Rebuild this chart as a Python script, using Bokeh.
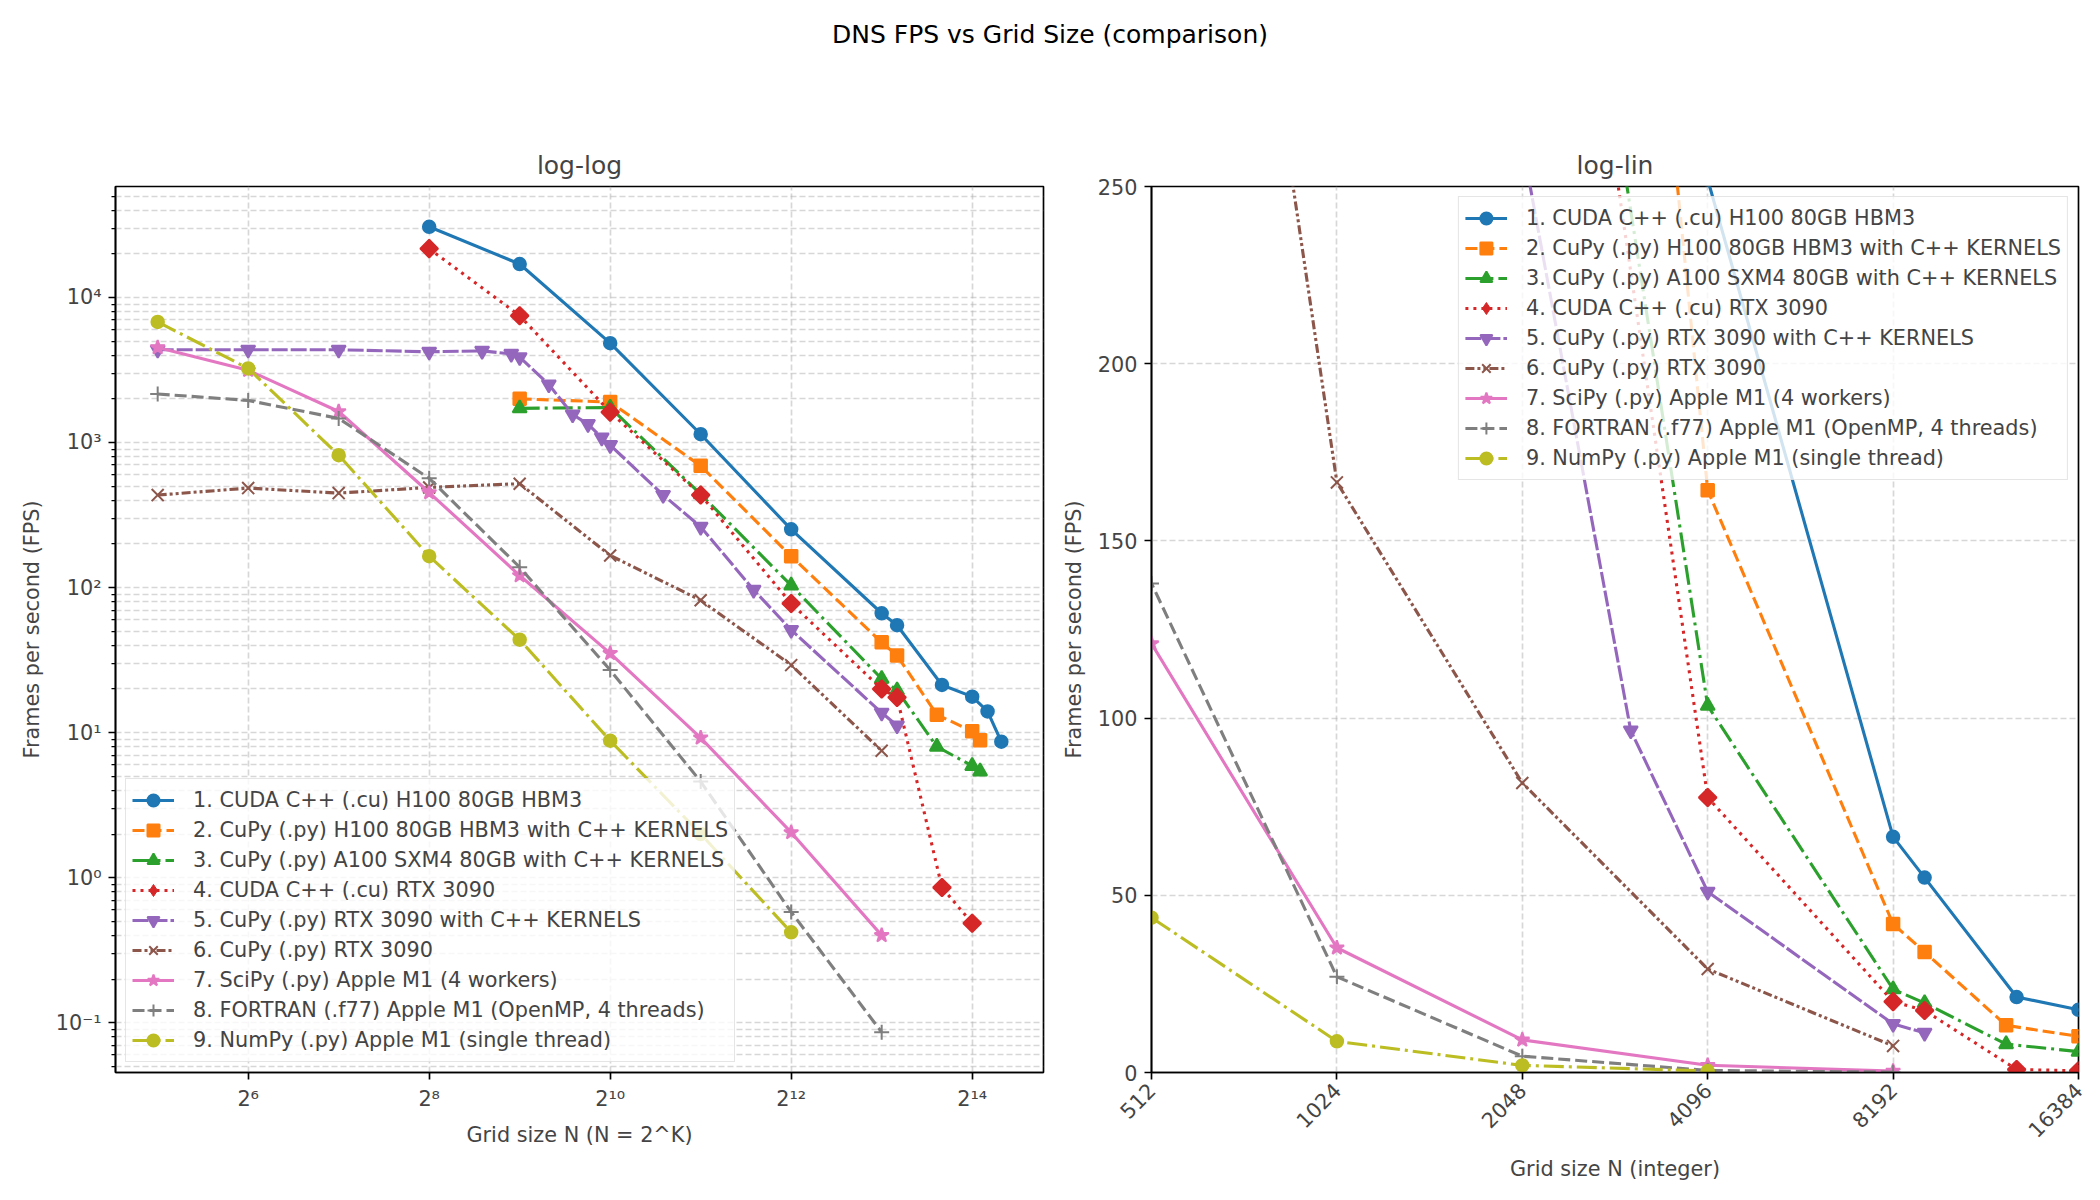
import numpy as np
from bokeh.plotting import figure
from bokeh.models import (FixedTicker, CustomJSTickFormatter, Legend, LegendItem,
                          Div, Range1d)
from bokeh.layouts import column, row
from bokeh.embed import file_html
from bokeh.resources import INLINE

# ---------------- data ----------------
labels = [
    "1. CUDA C++ (.cu) H100 80GB HBM3",
    "2. CuPy (.py) H100 80GB HBM3 with C++ KERNELS",
    "3. CuPy (.py) A100 SXM4 80GB with C++ KERNELS",
    "4. CUDA C++ (.cu) RTX 3090",
    "5. CuPy (.py) RTX 3090 with C++ KERNELS",
    "6. CuPy (.py) RTX 3090",
    "7. SciPy (.py) Apple M1 (4 workers)",
    "8. FORTRAN (.f77) Apple M1 (OpenMP, 4 threads)",
    "9. NumPy (.py) Apple M1 (single thread)",
]

n_cuda_h100 = [256, 512, 1024, 2048, 4096, 8192, 9216, 13000, 16384, 18432, 20480]
fps_cuda_h100 = [30700, 17000, 4840, 1140, 252, 66.5, 55, 21.3, 17.7, 14.0, 8.65]

n_cupy_h100 = [512, 1024, 2048, 4096, 8192, 9216, 12500, 16384, 17408]
fps_cupy_h100 = [2000, 1900, 690, 164.3, 41.9, 34.0, 13.3, 10.2, 8.85]

n_cupy_a100 = [512, 1024, 2048, 4096, 8192, 9216, 12500, 16384, 17408]
fps_cupy_a100 = [1720, 1740, 440, 103.5, 23.5, 19.6, 8.0, 5.9, 5.4]

n_cuda_3090 = [256, 512, 1024, 2048, 4096, 8192, 9216, 13000, 16384]
fps_cuda_3090 = [21700, 7480, 1620, 435, 77.6, 20.0, 17.5, 0.855, 0.485]

n_cupyk_3090 = [32, 64, 128, 256, 384, 480, 512, 640, 768, 864, 960, 1024,
                1536, 2048, 3072, 4096, 8192, 9216]
fps_cupyk_3090 = [4360, 4360, 4360, 4220, 4280, 4080, 3870, 2510, 1560, 1340,
                  1080, 960, 435, 262, 96.5, 51, 13.7, 11.2]

n_cupy_3090 = [32, 64, 128, 256, 512, 1024, 2048, 4096, 8192]
fps_cupy_3090 = [434, 485, 448, 490, 520, 166.5, 81.7, 29.2, 7.5]

n_scipy_m1 = [32, 64, 128, 256, 512, 1024, 2048, 4096, 8192]
fps_scipy_m1 = [4520, 3150, 1636, 452, 121, 35.2, 9.2, 2.05, 0.40]

n_fortran_m1 = [32, 64, 128, 256, 512, 1024, 2048, 4096, 8192]
fps_fortran_m1 = [2160, 1950, 1466, 566, 138, 27, 4.6, 0.58, 0.086]

n_numpy_m1 = [32, 64, 128, 256, 512, 1024, 2048, 4096]
fps_numpy_m1 = [6780, 3240, 818, 164.5, 43.7, 8.8, 2.0, 0.42]

series_n = [n_cuda_h100, n_cupy_h100, n_cupy_a100, n_cuda_3090, n_cupyk_3090,
            n_cupy_3090, n_scipy_m1, n_fortran_m1, n_numpy_m1]
series_fps = [fps_cuda_h100, fps_cupy_h100, fps_cupy_a100, fps_cuda_3090,
              fps_cupyk_3090, fps_cupy_3090, fps_scipy_m1, fps_fortran_m1,
              fps_numpy_m1]

loglin_xticks = [512, 1024, 2048, 4096, 8192, 16384]
loglin_yticks = [0, 50, 100, 150, 200, 250]
loglog_xticks = [64, 256, 1024, 4096, 16384]
loglog_yticks = [0.1, 1, 10, 100, 1000, 10000]

# ---------------- styles ----------------
colors = ["#1f77b4", "#ff7f0e", "#2ca02c", "#d62728", "#9467bd",
          "#8c564b", "#e377c2", "#7f7f7f", "#bcbd22"]
dashes = ["solid", "12 5", "20 5 3 5", "3 5", "16 3",
          "9 3 3 3 3 3", "solid", "12 5", "20 5 3 5"]
markers = ["circle", "square", "triangle", "square", "inverted_triangle",
           "x", "star", "cross", "circle"]
legend_markers = ["circle", "square", "triangle", "diamond", "inverted_triangle",
                  "x", "star", "cross", "circle"]
angles = [0, 0, 0, np.pi / 4, 0, 0, 0, 0, 0]
msizes = [12.5, 12.5, 14, 12.5, 14, 17, 15, 15, 12.5]

FONT = "DejaVu Sans"
FS = "20.8px"
GRID = "#b0b0b0"

SUP_JS = """
const sup = {"0":"\\u2070","1":"\\u00b9","2":"\\u00b2","3":"\\u00b3","4":"\\u2074",
             "5":"\\u2075","6":"\\u2076","7":"\\u2077","8":"\\u2078","9":"\\u2079",
             "-":"\\u207b"};
const e = Math.round(Math.log(tick) / Math.log(BASE));
return "BASE" + String(e).split("").map(c => sup[c]).join("");
"""


def style_common(p):
    p.outline_line_color = "black"
    p.outline_line_width = 1.67
    p.outline_line_alpha = 1
    p.title.text_font = FONT
    p.title.text_font_size = "25px"
    p.title.text_font_style = "normal"
    p.title.align = "center"
    p.title.standoff = 13
    for ax in p.axis:
        ax.major_label_text_font = FONT
        ax.major_label_text_font_size = FS
        ax.axis_label_text_font = FONT
        ax.axis_label_text_font_size = FS
        ax.axis_label_text_font_style = "normal"
        ax.axis_line_color = "black"
        ax.axis_line_width = 1.67
        ax.major_tick_line_width = 1.67
        ax.major_tick_out = 7
        ax.major_tick_in = 0
        ax.minor_tick_line_width = 1.25
        ax.minor_tick_out = 4
        ax.minor_tick_in = 0
        ax.major_label_standoff = 7
        ax.axis_label_standoff = 9
    for g in (p.xgrid, p.ygrid):
        g.grid_line_color = GRID
        g.grid_line_alpha = 0.5
        g.grid_line_width = 1.67
        g.grid_line_dash = "6 3"


def add_series(p):
    items = []
    for i in range(len(labels)):
        lr = p.line(series_n[i], series_fps[i], line_color=colors[i],
                    line_width=3.1, line_dash=dashes[i])
        rends = [lr]
        if legend_markers[i] != markers[i]:
            # legend glyphs are never rotated: a smaller diamond marker drawn
            # underneath the rotated squares serves as the legend symbol
            lg = p.scatter(series_n[i], series_fps[i], marker=legend_markers[i],
                           size=11, fill_color=colors[i], line_color=colors[i],
                           line_width=1)
            rends.append(lg)
        sr = p.scatter(series_n[i], series_fps[i], marker=markers[i],
                       size=msizes[i], angle=angles[i], fill_color=colors[i],
                       line_color=colors[i], line_width=2)
        if len(rends) == 1:
            rends.append(sr)
        items.append(LegendItem(label=labels[i], renderers=rends))
    return items


def make_legend(items, loc):
    return Legend(items=items, location=loc, label_text_font=FONT,
                  label_text_font_size=FS, glyph_width=42, glyph_height=30,
                  label_height=30, spacing=0, padding=6, margin=10,
                  label_standoff=19, border_line_color="#cccccc",
                  border_line_width=1.67, background_fill_alpha=0.8)


# ---------------- log-log figure ----------------
all_n = np.concatenate([np.asarray(a, float) for a in series_n])
all_f = np.concatenate([np.asarray(a, float) for a in series_fps])
lx0, lx1 = np.log2(all_n.min()), np.log2(all_n.max())
mx = 0.05 * (lx1 - lx0)
ly0, ly1 = np.log10(all_f.min()), np.log10(all_f.max())
my = 0.05 * (ly1 - ly0)

p1 = figure(width=1058, height=1060, x_axis_type="log", y_axis_type="log",
            x_range=Range1d(2 ** (lx0 - mx), 2 ** (lx1 + mx)),
            y_range=Range1d(10 ** (ly0 - my), 10 ** (ly1 + my)),
            title="log-log", toolbar_location=None, output_backend="svg",
            min_border_left=115, min_border_right=15, min_border_top=50,
            min_border_bottom=124, margin=0)
minor = [k * 10.0 ** e for e in range(-2, 5) for k in range(2, 10)]
p1.xaxis.ticker = FixedTicker(ticks=loglog_xticks)
p1.yaxis.ticker = FixedTicker(ticks=loglog_yticks, minor_ticks=minor)
p1.xaxis.formatter = CustomJSTickFormatter(code=SUP_JS.replace("BASE", "2"))
p1.yaxis.formatter = CustomJSTickFormatter(code=SUP_JS.replace("BASE", "10"))
p1.xaxis.axis_label = "Grid size N (N = 2^K)"
p1.yaxis.axis_label = "Frames per second (FPS)"
style_common(p1)
p1.ygrid.minor_grid_line_color = GRID
p1.ygrid.minor_grid_line_alpha = 0.5
p1.ygrid.minor_grid_line_width = 1.67
p1.ygrid.minor_grid_line_dash = "6 3"
p1.add_layout(make_legend(add_series(p1), "bottom_left"))

# ---------------- log-lin figure ----------------
p2 = figure(width=1042, height=1060, x_axis_type="log",
            x_range=Range1d(loglin_xticks[0], loglin_xticks[-1]),
            y_range=Range1d(loglin_yticks[0], loglin_yticks[-1]),
            title="log-lin", toolbar_location=None, output_backend="svg",
            min_border_left=91, min_border_right=22, min_border_top=50,
            min_border_bottom=124, margin=0)
p2.xaxis.ticker = FixedTicker(ticks=loglin_xticks)
p2.yaxis.ticker = FixedTicker(ticks=loglin_yticks)
p2.xaxis.formatter = CustomJSTickFormatter(code="return String(Math.round(tick));")
p2.yaxis.formatter = CustomJSTickFormatter(code="return String(Math.round(tick));")
p2.xaxis.major_label_orientation = np.pi / 4
p2.xaxis.axis_label = "Grid size N (integer)"
p2.yaxis.axis_label = "Frames per second (FPS)"
style_common(p2)
p2.add_layout(make_legend(add_series(p2), "top_right"))

title = Div(text='<div style="text-align:center;font-family:\'DejaVu Sans\';'
                 'font-size:25px;margin-top:17px;width:2100px;">'
                 'DNS FPS vs Grid Size (comparison)</div>',
            width=2100, height=136, margin=0)

layout = column(title, row(p1, p2, margin=0, spacing=0), margin=0, spacing=0)
open("out.html", "w", encoding="utf-8").write(file_html(layout, INLINE))
